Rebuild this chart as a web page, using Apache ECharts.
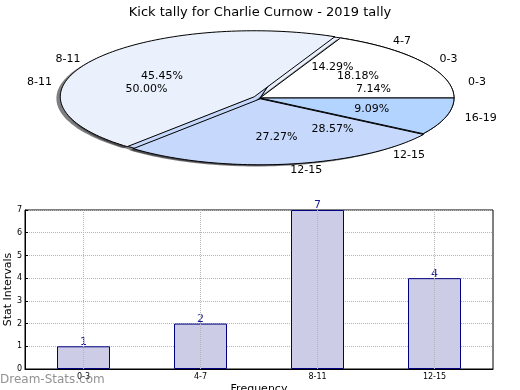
<!DOCTYPE html>
<html><head><meta charset="utf-8">
<script src="https://cdn.jsdelivr.net/npm/echarts@6/dist/echarts.min.js"></script>
<style>html,body{margin:0;padding:0;background:#fff}#c{width:520px;height:390px}</style>
</head><body><div id="c"></div>
<script>
// ---- data ----
const titleText = 'Kick tally for Charlie Curnow - 2019 tally';
const pieACategories = ['0-3', '4-7', '8-11', '12-15'];
const pieAValues = [1, 2, 7, 4];
const pieBCategories = ['0-3', '8-11', '12-15', '16-19'];
const pieBValues = [2, 5, 3, 1];
const barCategories = ['0-3', '4-7', '8-11', '12-15'];
const barValues = [1, 2, 7, 4];
const yTickMax = 7;

// ---- styles ----
const pieColors = ['#ffffff', '#eaf1fd', '#c6d9fc', '#b3d4ff'];
const pieBExplode = [0, 0.035, 0.012, 0];
const shadowOffset = [-0.02, -0.025];
const FONT = '"DejaVu Sans", sans-serif';

function fractions(vals) {
  const t = vals.reduce((a, b) => a + b, 0);
  let c = 0;
  return vals.map(v => { const s = c; c += v; return [s / t, c / t, v / t]; });
}
const frA = fractions(pieAValues), frB = fractions(pieBValues);

function wedgePoints(api, a0, a1, cx, cy) {
  const pts = [api.coord([cx, cy])];
  const n = Math.max(2, Math.ceil((a1 - a0) / (Math.PI / 120)));
  for (let i = 0; i <= n; i++) {
    const a = a0 + (a1 - a0) * i / n;
    pts.push(api.coord([cx + Math.cos(a), cy + Math.sin(a)]));
  }
  return pts;
}

function wedgeSeries(name, vals, fr, explode, z, shadow) {
  return {
    type: 'custom', name, coordinateSystem: 'cartesian2d', xAxisIndex: 0, yAxisIndex: 0,
    z, clip: false, silent: true, animation: false,
    data: vals.map((v, i) => [0, 0, v, i]),
    renderItem: (params, api) => {
      const i = params.dataIndex;
      const a0 = fr[i][0] * 2 * Math.PI, a1 = fr[i][1] * 2 * Math.PI, am = (a0 + a1) / 2;
      const e = explode ? (explode[i] || 0) : 0;
      let cx = e * Math.cos(am), cy = e * Math.sin(am);
      if (shadow) { cx += shadowOffset[0]; cy += shadowOffset[1]; }
      return {
        type: 'polygon',
        shape: { points: wedgePoints(api, a0, a1, cx, cy) },
        style: shadow ? { fill: 'rgba(40,40,45,0.6)', stroke: 'none' }
                      : { fill: pieColors[i % pieColors.length], stroke: '#000', lineWidth: 1 }
      };
    }
  };
}

// labels for both pies
const pieLabels = [];
[[pieACategories, pieAValues, frA], [pieBCategories, pieBValues, frB]].forEach(([cats, vals, fr]) => {
  cats.forEach((c, i) => {
    const am = (fr[i][0] + fr[i][1]) * Math.PI;
    pieLabels.push({ text: c, ang: am, r: 1.1, kind: 'name' });
    pieLabels.push({ text: (fr[i][2] * 100).toFixed(2) + '%', ang: am, r: 0.6, kind: 'pct' });
  });
});

const chart = echarts.init(document.getElementById('c'), null, { renderer: 'canvas' });
chart.setOption({
  animation: false,
  backgroundColor: '#fff',
  title: {
    text: titleText, left: 'center', top: 1,
    textStyle: { fontFamily: FONT, fontSize: 13, fontWeight: 'normal', color: '#000' }
  },
  grid: [
    { left: 66, top: 32, width: 388, height: 132, show: false, outerBoundsMode: 'none', containLabel: false },
    { left: 25, top: 210, width: 468, height: 159, show: true, borderColor: '#000', borderWidth: 1,
      outerBoundsMode: 'none', containLabel: false }
  ],
  xAxis: [
    { gridIndex: 0, type: 'value', min: -1, max: 1, show: false },
    {
      gridIndex: 1, type: 'category', data: barCategories,
      axisLine: { show: true, lineStyle: { color: '#000', width: 1 } },
      axisTick: { show: true, inside: true, alignWithLabel: true, length: 3, lineStyle: { color: '#000' } },
      axisLabel: { fontFamily: FONT, fontSize: 8, color: '#000', margin: 4 },
      splitLine: { show: false },
      name: 'Frequency', nameLocation: 'middle', nameGap: 15, nameMoveOverlap: false,
      nameTextStyle: { fontFamily: FONT, fontSize: 11, color: '#000', verticalAlign: 'top' }
    }
  ],
  yAxis: [
    { gridIndex: 0, type: 'value', min: -1, max: 1, show: false },
    {
      gridIndex: 1, type: 'value', min: 0, max: yTickMax, interval: 1,
      axisLine: { show: true, lineStyle: { color: '#000', width: 1 } },
      axisTick: { show: true, inside: true, length: 3, lineStyle: { color: '#000' } },
      axisLabel: { fontFamily: FONT, fontSize: 8, color: '#000', margin: 3 },
      splitLine: { show: true, lineStyle: { type: 'dotted', color: '#b4b4b4', width: 1 } },
      name: 'Stat Intervals', nameLocation: 'middle', nameGap: 11, nameRotate: 90, nameMoveOverlap: false,
      nameTextStyle: { fontFamily: FONT, fontSize: 11, color: '#000' }
    }
  ],
  series: [
    wedgeSeries('shadowA', pieAValues, frA, null, 1, true),
    wedgeSeries('pieA', pieAValues, frA, null, 2, false),
    wedgeSeries('shadowB', pieBValues, frB, pieBExplode, 3, true),
    wedgeSeries('pieB', pieBValues, frB, pieBExplode, 4, false),
    {
      type: 'custom', name: 'pieLabels', coordinateSystem: 'cartesian2d', xAxisIndex: 0, yAxisIndex: 0,
      z: 10, clip: false, silent: true, animation: false,
      data: pieLabels.map((l, i) => [0, 0, i]),
      renderItem: (params, api) => {
        const l = pieLabels[params.dataIndex];
        const c = Math.cos(l.ang), s = Math.sin(l.ang);
        const p = api.coord([l.r * c, l.r * s]);
        return {
          type: 'text', x: p[0], y: p[1],
          style: {
            text: l.text, fill: '#000', font: '11px ' + FONT,
            align: l.kind === 'pct' ? 'center' : (c >= 0 ? 'left' : 'right'),
            verticalAlign: 'middle'
          }
        };
      }
    },
    {
      type: 'bar', name: 'bars', xAxisIndex: 1, yAxisIndex: 1,
      data: barValues, barWidth: 53,
      itemStyle: { color: '#ccccE6', borderColor: '#000080', borderWidth: 1 },
      label: { show: true, position: 'top', distance: -1, color: '#1a1a99', fontFamily: FONT, fontSize: 11 },
      markLine: {
        silent: true, symbol: ['none', 'none'], label: { show: false },
        lineStyle: { type: 'dotted', color: '#b4b4b4', width: 1 },
        data: barCategories.map(c => ({ xAxis: c }))
      }
    }
  ],
  graphic: [
    {
      type: 'text', left: 0, top: 374, z: 100,
      style: { text: 'Dream-Stats.com', fill: 'rgba(110,110,110,0.75)', font: '12px ' + FONT }
    }
  ]
});
</script>
</body></html>
